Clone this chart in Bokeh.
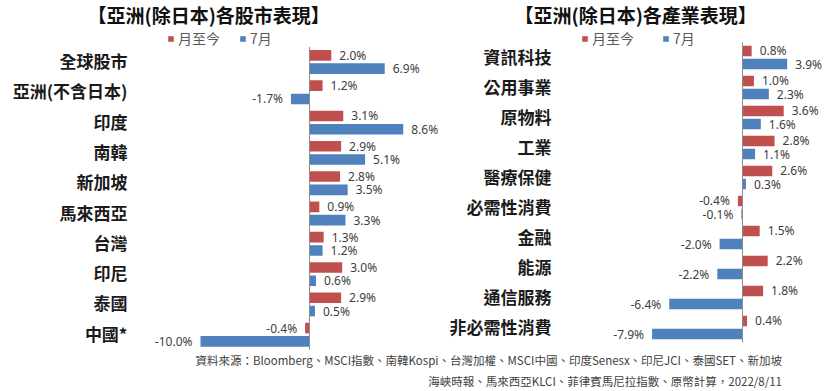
from bokeh.plotting import figure
from bokeh.models import (ColumnDataSource, Range1d, Legend, LegendItem, Div,
                          FixedTicker)
from bokeh.layouts import row, column
from bokeh.embed import file_html
from bokeh.resources import INLINE
from bokeh.core.properties import value

# ---------------- data ----------------
market_title = "【亞洲(除日本)各股市表現】"
markets = ["全球股市", "亞洲(不含日本)", "印度", "南韓", "新加坡",
           "馬來西亞", "台灣", "印尼", "泰國", "中國*"]
market_mtd = [2.0, 1.2, 3.1, 2.9, 2.8, 0.9, 1.3, 3.0, 2.9, -0.4]
market_jul = [6.9, -1.7, 8.6, 5.1, 3.5, 3.3, 1.2, 0.6, 0.5, -10.0]

sector_title = "【亞洲(除日本)各產業表現】"
sectors = ["資訊科技", "公用事業", "原物料", "工業", "醫療保健",
           "必需性消費", "金融", "能源", "通信服務", "非必需性消費"]
sector_mtd = [0.8, 1.0, 3.6, 2.8, 2.6, -0.4, 1.5, 2.2, 1.8, 0.4]
sector_jul = [3.9, 2.3, 1.6, 1.1, 0.3, -0.1, -2.0, -2.2, -6.4, -7.9]

series_names = ["月至今", "7月"]
series_colors = ["#C0504D", "#4F81BD"]

source_note_1 = "資料來源：Bloomberg、MSCI指數、南韓Kospi、台灣加權、MSCI中國、印度Senesx、印尼JCI、泰國SET、新加坡"
source_note_2 = "海峽時報、馬來西亞KLCI、菲律賓馬尼拉指數、原幣計算，2022/8/11"

CJK = "Noto Sans CJK TC"
NUM = "Noto Sans"

BORDER_TOP = 24
FRAME_H = 326


def make_chart(title, cats, mtd, jul, frame_w, border_left, standoff,
               px_per_pct, zero_px, row_px, first_row_px,
               title_offset, legend_x, legend_spacing):
    n = len(cats)
    pos = [-i for i in range(n)]          # top row at 0, going down
    y_top = (first_row_px - BORDER_TOP) / row_px
    y_bottom = y_top - FRAME_H / row_px
    xr = (-zero_px / px_per_pct, (frame_w - zero_px) / px_per_pct)
    label_lift = 1.5 / row_px              # optical centring of CJK labels
    ticks = [pv + label_lift for pv in pos]

    p = figure(frame_width=frame_w, frame_height=FRAME_H,
               output_backend="svg", toolbar_location=None,
               y_range=Range1d(y_bottom, y_top), x_range=Range1d(*xr),
               min_border_left=border_left, min_border_right=0,
               min_border_top=BORDER_TOP, min_border_bottom=0,
               background_fill_color="white", border_fill_color="white",
               outline_line_color=None, margin=(0, 0, 0, 0))
    p.title.text = title
    p.title.text_font = CJK
    p.title.text_font_size = "19px"
    p.title.text_font_style = "bold"
    p.title.text_color = "#111111"
    p.title.align = "left"
    p.title.offset = title_offset
    p.title.standoff = -6

    p.xaxis.visible = False
    p.xgrid.visible = False
    p.ygrid.visible = False
    ax = p.yaxis[0]
    ax.ticker = FixedTicker(ticks=ticks)
    ax.major_label_overrides = {t: c for t, c in zip(ticks, cats)}
    ax.axis_line_color = None
    ax.major_tick_line_color = None
    ax.minor_tick_line_color = None
    ax.major_tick_out = 0
    ax.major_tick_in = 0
    ax.major_label_standoff = standoff
    ax.major_label_text_font = CJK
    ax.major_label_text_font_size = "17px"
    ax.major_label_text_font_style = "bold"
    ax.major_label_text_color = "#1a1a1a"

    renderers = []
    for i, vals in enumerate([mtd, jul]):
        off = 0.22 if i == 0 else -0.22
        src = ColumnDataSource(dict(
            y=[pv + off for pv in pos], v=vals,
            lbl=[f"{v:.1f}%" for v in vals],
            align=["left" if v >= 0 else "right" for v in vals],
            xoff=[8 if v >= 0 else -8 for v in vals],
        ))
        r = p.hbar(y="y", left=0, right="v", height=0.35,
                   color=series_colors[i], line_color=None, source=src)
        renderers.append(r)
        p.text(x="v", y="y", text="lbl", text_align="align", x_offset="xoff",
               text_baseline="middle", text_font=value(NUM),
               text_font_size="12px", text_color="#404040", source=src)

    # zero axis line spanning the category rows
    p.segment(x0=[0], x1=[0], y0=[pos[0] + 0.5], y1=[pos[-1] - 0.5],
              line_color="#8C8C8C", line_width=1)

    legend = Legend(items=[LegendItem(label=series_names[i],
                                      renderers=[renderers[i]])
                           for i in range(2)],
                    orientation="horizontal",
                    location=(legend_x, FRAME_H - (48 - BORDER_TOP)),
                    glyph_width=7, glyph_height=7, label_standoff=4,
                    label_text_font=CJK, label_text_font_size="14px",
                    label_text_color="#595959", label_height=16,
                    spacing=legend_spacing, padding=0, margin=0,
                    border_line_color=None, background_fill_alpha=0)
    p.add_layout(legend)
    return p


p1 = make_chart(market_title, markets, market_mtd, market_jul,
                frame_w=309, border_left=135, standoff=8,
                px_per_pct=10.9, zero_px=174, row_px=30.3, first_row_px=61.5,
                title_offset=-48, legend_x=32, legend_spacing=19)
p2 = make_chart(sector_title, sectors, sector_mtd, sector_jul,
                frame_w=247, border_left=135, standoff=28,
                px_per_pct=11.45, zero_px=163, row_px=30.0, first_row_px=57.0,
                title_offset=-65, legend_x=2, legend_spacing=28)

note = Div(text=f"{source_note_1}<br>{source_note_2}",
           width=826, height=40, margin=(0, 0, 0, 0),
           styles={"font-family": f"'{CJK}'", "font-size": "11.5px",
                   "line-height": "21px", "color": "#404040",
                   "text-align": "right", "padding-right": "44px",
                   "box-sizing": "border-box", "width": "826px",
                   "white-space": "nowrap"})

layout = column(row(p1, p2, spacing=0), note, spacing=0)
open("out.html", "w").write(file_html(layout, INLINE))
